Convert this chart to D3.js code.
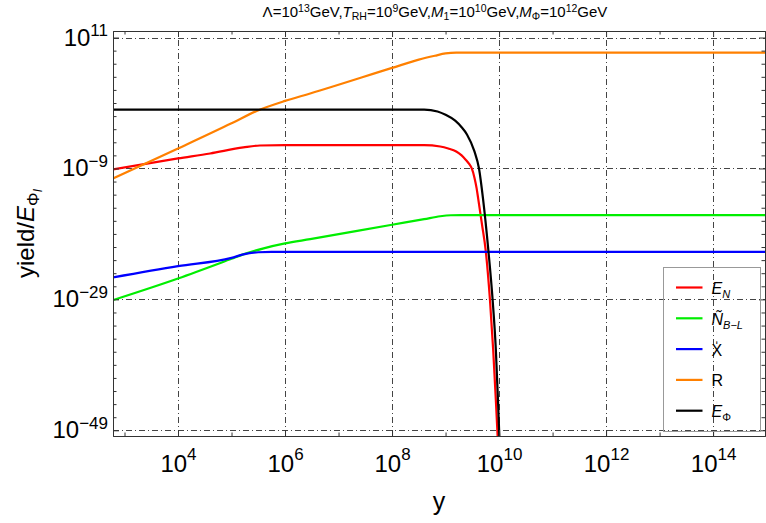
<!DOCTYPE html>
<html>
<head>
<meta charset="utf-8">
<script src="https://cdn.jsdelivr.net/npm/d3@7"></script>
<style>
  body { margin: 0; background: #fff; }
  text { font-family: "Liberation Sans", Arial, Helvetica, sans-serif; fill: #000; }
</style>
</head>
<body>
<svg id="chart" width="766" height="523"></svg>
<script>
// Yields versus y, stored as log10(y) / log10(yield / E_Phi_I) pairs per species.
const enLogX  = [2.785, 4.0, 4.6, 5.22, 5.53, 6.0, 8.6, 8.9, 9.05, 9.2, 9.3, 9.38, 9.44, 9.49, 9.54, 9.58, 9.61, 9.68, 9.75, 9.83, 9.89, 9.94, 9.98];
const enLogY  = [-9.15, -7.47, -6.71, -5.79, -5.49, -5.44, -5.44, -5.65, -5.95, -6.4, -7.0, -7.7, -8.3, -9.0, -10.4, -12.0, -13.6, -17.5, -21.5, -29.1, -36.7, -44.4, -51];

const nblLogX = [2.785, 4.0, 5.0, 5.22, 5.6, 6.0, 6.47, 8.0, 8.6, 8.9, 9.1, 9.3, 14.97];
const nblLogY = [-29.1, -25.8, -22.8, -22.13, -21.2, -20.45, -19.8, -17.6, -16.75, -16.3, -16.15, -16.13, -16.13];

const xLogX   = [2.785, 4.0, 5.0, 5.22, 5.5, 5.75, 14.97];
const xLogY   = [-25.64, -23.92, -22.65, -22.13, -21.8, -21.73, -21.73];

const rLogX   = [2.785, 4.0, 5.0, 5.47, 6.0, 6.47, 8.0, 8.5, 8.8, 9.0, 9.2, 9.4, 14.97];
const rLogY   = [-10.53, -5.95, -2.1, -0.21, 1.32, 2.45, 6.36, 7.63, 8.22, 8.57, 8.70, 8.71, 8.71];

const ephiLogX = [2.785, 8.6, 8.85, 9.0, 9.18, 9.3, 9.4, 9.54, 9.625, 9.70, 9.80, 9.88, 9.94, 9.98, 10.01];
const ephiLogY = [0, 0, -0.3, -0.8, -1.7, -2.7, -3.8, -6.4, -9.0, -13.6, -21.5, -29.1, -36.7, -44.4, -51];

const seriesColors = ["#ff0000", "#00ee00", "#0000ff", "#ff8000", "#000000"];

// Axis ranges (powers of ten) and tick exponents
const xDomainExp = [2.785, 14.97];
const yDomainExp = [-49.87, 12.0];
const xMajorExp = [4, 6, 8, 10, 12, 14];
const xMinorExp = [3, 5, 7, 9, 11, 13];
const yMajorExp = [11, -9, -29, -49];
const yMinorExp = d3.range(-47, 11, 2).filter(e => !yMajorExp.includes(e));

const series = [
  { lx: enLogX,   ly: enLogY,   color: seriesColors[0] },
  { lx: nblLogX,  ly: nblLogY,  color: seriesColors[1] },
  { lx: xLogX,    ly: xLogY,    color: seriesColors[2] },
  { lx: rLogX,    ly: rLogY,    color: seriesColors[3] },
  { lx: ephiLogX, ly: ephiLogY, color: seriesColors[4] }
];

const svg = d3.select("#chart");
const plot = { left: 113, right: 765, top: 31, bottom: 436 };

const x = d3.scaleLog().domain(xDomainExp.map(e => Math.pow(10, e))).range([plot.left, plot.right]);
const y = d3.scaleLog().domain(yDomainExp.map(e => Math.pow(10, e))).range([plot.bottom, plot.top]);

const pow = e => Math.pow(10, e);
const minus = s => String(s).replace("-", "\u2212");

// clip region for curves
svg.append("defs").append("clipPath").attr("id", "plotClip")
  .append("rect")
  .attr("x", plot.left).attr("y", plot.top)
  .attr("width", plot.right - plot.left).attr("height", plot.bottom - plot.top);

// dot-dashed grid
const grid = svg.append("g").attr("stroke", "#444").attr("stroke-width", 1)
  .attr("stroke-dasharray", "6,3,1,3").attr("fill", "none");
grid.selectAll("line.v").data(xMajorExp).join("line")
  .attr("x1", d => Math.round(x(pow(d))) + 0.5).attr("x2", d => Math.round(x(pow(d))) + 0.5)
  .attr("y1", plot.bottom).attr("y2", plot.top);
grid.selectAll("line.h").data(yMajorExp).join("line")
  .attr("y1", d => Math.round(y(pow(d))) + 0.5).attr("y2", d => Math.round(y(pow(d))) + 0.5)
  .attr("x1", plot.left).attr("x2", plot.right);

// curves
const line = d3.line()
  .x(d => x(d[0])).y(d => y(d[1]))
  .curve(d3.curveMonotoneX);
const curves = svg.append("g").attr("clip-path", "url(#plotClip)");
series.forEach(s => {
  const pts = s.lx.map((lx, i) => [pow(lx), pow(s.ly[i])]);
  curves.append("path").datum(pts)
    .attr("d", line)
    .attr("fill", "none")
    .attr("stroke", s.color)
    .attr("stroke-width", 2.2)
    .attr("stroke-linejoin", "round");
});

// frame axes with inward ticks
const frameColor = "#333";
function styleAxis(g) {
  g.select(".domain").attr("stroke", frameColor);
  g.selectAll(".tick line").attr("stroke", frameColor);
}
const bottomMajor = svg.append("g").attr("transform", `translate(0,${plot.bottom})`)
  .call(d3.axisBottom(x).tickValues(xMajorExp.map(pow)).tickSizeInner(-6).tickSizeOuter(0).tickPadding(0));
bottomMajor.call(styleAxis);
svg.append("g").attr("transform", `translate(0,${plot.bottom})`)
  .call(d3.axisBottom(x).tickValues(xMinorExp.map(pow)).tickSizeInner(-3.5).tickSizeOuter(0).tickFormat(""))
  .call(styleAxis);
svg.append("g").attr("transform", `translate(0,${plot.top})`)
  .call(d3.axisTop(x).tickValues(xMajorExp.map(pow)).tickSizeInner(-6).tickSizeOuter(0).tickFormat(""))
  .call(styleAxis);
svg.append("g").attr("transform", `translate(0,${plot.top})`)
  .call(d3.axisTop(x).tickValues(xMinorExp.map(pow)).tickSizeInner(-3.5).tickSizeOuter(0).tickFormat(""))
  .call(styleAxis);

const leftMajor = svg.append("g").attr("transform", `translate(${plot.left},0)`)
  .call(d3.axisLeft(y).tickValues(yMajorExp.map(pow)).tickSizeInner(-6).tickSizeOuter(0).tickPadding(5));
leftMajor.call(styleAxis);
svg.append("g").attr("transform", `translate(${plot.left},0)`)
  .call(d3.axisLeft(y).tickValues(yMinorExp.map(pow)).tickSizeInner(-3.5).tickSizeOuter(0).tickFormat(""))
  .call(styleAxis);
svg.append("g").attr("transform", `translate(${plot.right},0)`)
  .call(d3.axisRight(y).tickValues(yMajorExp.map(pow)).tickSizeInner(-6).tickSizeOuter(0).tickFormat(""))
  .call(styleAxis);
svg.append("g").attr("transform", `translate(${plot.right},0)`)
  .call(d3.axisRight(y).tickValues(yMinorExp.map(pow)).tickSizeInner(-3.5).tickSizeOuter(0).tickFormat(""))
  .call(styleAxis);

// power-of-ten tick labels
function powerLabel(text, exp, supShift) {
  text.text(null);
  text.append("tspan").text("10");
  text.append("tspan").attr("dy", -supShift).attr("font-size", 17).text(minus(exp));
}
bottomMajor.selectAll(".tick text")
  .attr("y", 35.6).attr("dy", null).attr("font-size", 24).attr("fill", "#000")
  .each(function(d) { powerLabel(d3.select(this), Math.round(Math.log10(d)), 12); });
leftMajor.selectAll(".tick text")
  .attr("y", 7.5).attr("dy", null).attr("font-size", 24).attr("fill", "#000")
  .each(function(d) { powerLabel(d3.select(this), Math.round(Math.log10(d)), 9.3); });

// axis titles
svg.append("text").attr("x", (plot.left + plot.right) / 2).attr("y", 510)
  .attr("text-anchor", "middle").attr("font-size", 25).text("y");

const yTitle = svg.append("text")
  .attr("transform", `translate(34,${(plot.top + plot.bottom) / 2}) rotate(-90)`)
  .attr("text-anchor", "middle").attr("font-size", 24);
yTitle.append("tspan").text("yield/");
yTitle.append("tspan").attr("font-style", "italic").text("E");
yTitle.append("tspan").attr("font-size", 17).attr("dy", 5).text("\u03A6");
yTitle.append("tspan").attr("font-size", 12).attr("font-style", "italic").attr("dy", 3).text("I");

// title
const title = svg.append("text").attr("x", (plot.left + plot.right) / 2 - 4).attr("y", 17)
  .attr("text-anchor", "middle").attr("font-size", 15);
const titleParts = [
  ["\u039B=10", 0, null], ["13", -5.5, "sup"], ["GeV,", 5.5, null],
  ["T", 0, "it"], ["RH", 3, "sub"], ["=10", -3, null], ["9", -5.5, "sup"], ["GeV,", 5.5, null],
  ["M", 0, "it"], ["1", 3, "sub"], ["=10", -3, null], ["10", -5.5, "sup"], ["GeV,", 5.5, null],
  ["M", 0, "it"], ["\u03A6", 3, "sub"], ["=10", -3, null], ["12", -5.5, "sup"], ["GeV", 5.5, null]
];
titleParts.forEach(([t, dy, kind]) => {
  const ts = title.append("tspan").attr("dy", dy).text(t);
  if (kind === "sup" || kind === "sub") ts.attr("font-size", 10.5);
  if (kind === "it") ts.attr("font-style", "italic");
});

// legend
const legend = svg.append("g").attr("transform", "translate(663.5,267.5)");
legend.append("rect").attr("width", 97).attr("height", 164)
  .attr("fill", "none").attr("stroke", "#999").attr("stroke-width", 1);
const legendLabels = [
  [["E", "it", 0], ["N", "itsub", 4]],
  [["\u00D1", "it", 0], ["B\u2212L", "itsub", 4]],
  [["X\u030D", "", 0]],
  [["R", "", 0]],
  [["E", "it", 0], ["\u03A6", "sub", 4]]
];
legendLabels.forEach((parts, i) => {
  const cy = 20 + i * 30.8;
  legend.append("line").attr("x1", 12.5).attr("x2", 39).attr("y1", cy).attr("y2", cy)
    .attr("stroke", seriesColors[i]).attr("stroke-width", 2.2);
  const t = legend.append("text").attr("x", 48).attr("y", cy + 6.5).attr("font-size", 16);
  parts.forEach(([s, kind, dy]) => {
    const ts = t.append("tspan").attr("dy", dy).text(s);
    if (kind.startsWith("it")) ts.attr("font-style", "italic");
    if (kind.endsWith("sub")) ts.attr("font-size", 11);
  });
});
</script>
</body>
</html>
